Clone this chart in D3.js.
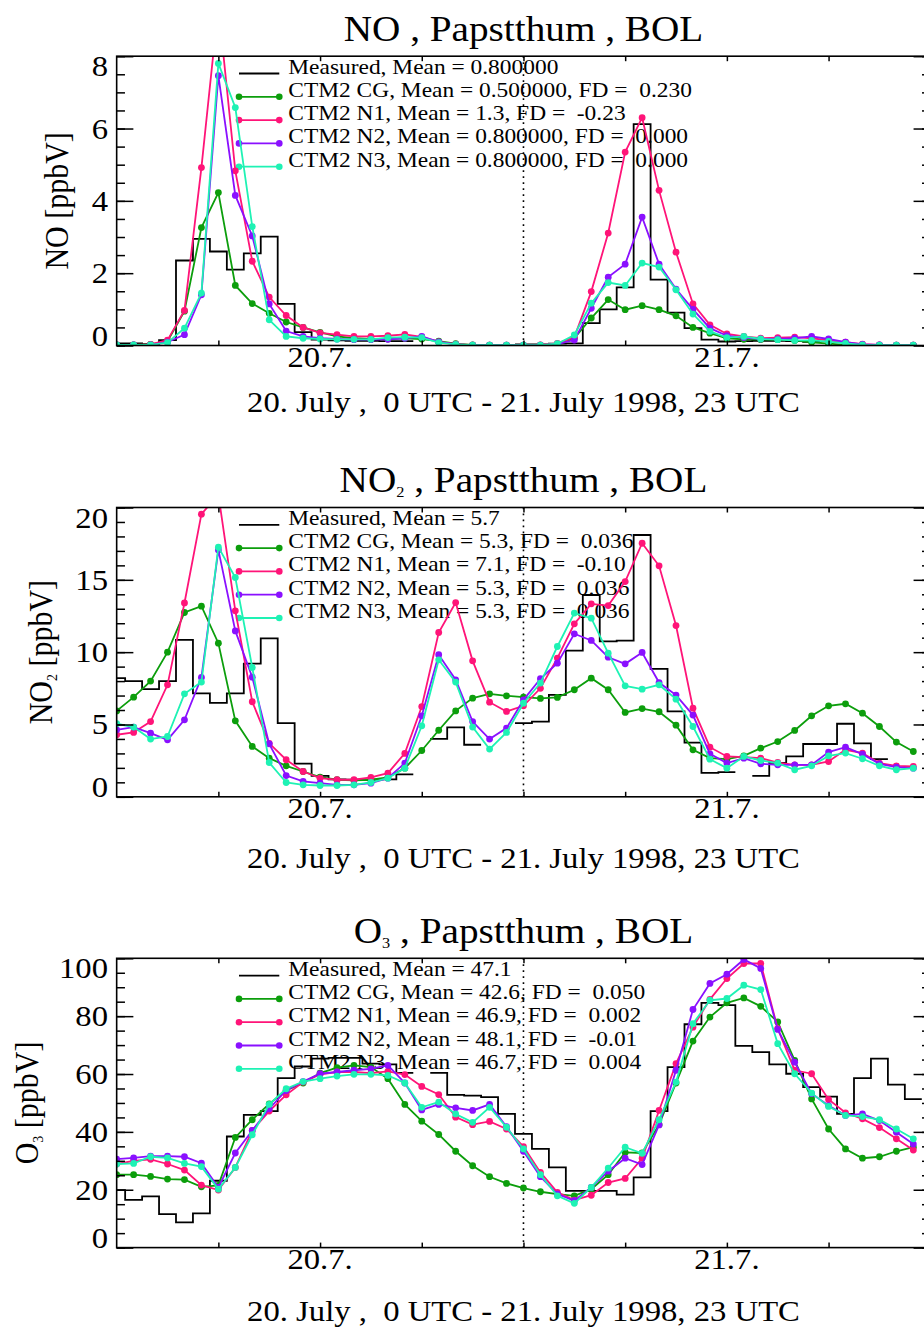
<!DOCTYPE html>
<html><head><meta charset="utf-8">
<script src="https://cdn.jsdelivr.net/npm/d3@7"></script>
<style>
body{margin:0;background:#fff}
svg text{font-family:'Liberation Serif','Tinos','Times New Roman','DejaVu Serif',serif;white-space:pre;fill:#000}
</style>
</head><body>
<svg id="c" width="924" height="1327" xmlns="http://www.w3.org/2000/svg"></svg>
<script>
// ---------------- DATA ----------------
const hours = d3.range(48);
const seriesNames = ["Measured","CTM2 CG","CTM2 N1","CTM2 N2","CTM2 N3"];
const xTickLabels = [{h:12,label:"20.7."},{h:36,label:"21.7."}];
const xTitle = "20. July ,  0 UTC - 21. July 1998, 23 UTC";

// NO [ppbV]
const no_meas = [0.06,0.06,0.04,0.15,2.35,2.95,2.6,2.1,2.55,3.01,1.15,0.37,0.16,0.14,0.13,0.13,0.12,0.12,
  null,null,null,null,null,null,
  0.03,0.03,0.05,0.06,0.62,1.0,1.61,6.12,1.82,0.91,0.48,0.16,0.11,0.12,0.13,0.13,0.12,0.1,
  null,null,null,null,null,null];
const no_cg = [0.02,0.02,0.03,0.12,0.95,3.26,4.23,1.66,1.16,0.89,0.65,0.5,0.36,0.25,0.2,0.18,0.18,0.2,0.18,0.12,0.05,0.02,0.01,0.01,0.01,0.01,0.03,0.2,0.76,1.27,0.99,1.1,0.99,0.82,0.5,0.34,0.2,0.17,0.16,0.16,0.14,0.09,0.05,0.02,0.01,0.01,0.01,0.01];
const no_n1 = [0.02,0.02,0.03,0.15,0.97,4.92,9.4,4.83,2.33,1.34,0.83,0.5,0.35,0.3,0.25,0.25,0.27,0.31,0.24,0.1,0.04,0.01,0.01,0.01,0.01,0.02,0.06,0.23,1.49,3.11,5.35,6.3,4.29,2.58,1.15,0.57,0.32,0.25,0.2,0.22,0.23,0.2,0.14,0.09,0.04,0.02,0.01,0.01];
const no_n2 = [0.02,0.02,0.02,0.09,0.3,1.4,7.46,4.15,3.03,1.15,0.4,0.25,0.2,0.18,0.16,0.16,0.17,0.2,0.25,0.1,0.03,0.01,0.01,0.01,0.01,0.01,0.04,0.15,1.03,1.89,2.25,3.55,2.25,1.56,1.0,0.48,0.27,0.22,0.18,0.18,0.2,0.25,0.18,0.09,0.03,0.02,0.01,0.01];
const no_n3 = [0.02,0.02,0.02,0.08,0.48,1.45,7.8,6.58,3.29,0.71,0.25,0.2,0.18,0.17,0.17,0.17,0.22,0.23,0.22,0.08,0.03,0.01,0.01,0.01,0.01,0.01,0.05,0.29,1.17,1.74,1.66,2.28,2.17,1.54,0.87,0.39,0.22,0.25,0.18,0.16,0.14,0.14,0.11,0.06,0.02,0.01,0.01,0.01];
const no_legend = ["Measured, Mean = 0.800000","CTM2 CG, Mean = 0.500000, FD =  0.230","CTM2 N1, Mean = 1.3, FD =  -0.23","CTM2 N2, Mean = 0.800000, FD =  0.000","CTM2 N3, Mean = 0.800000, FD =  0.000"];
const no_yticks = [0,2,4,6,8];
const no_yminor = d3.range(0,8.01,0.5);

// NO2 [ppbV]
const no2_meas = [8.2,8.0,7.45,8.0,10.85,7.15,6.5,7.15,9.2,10.95,5.1,2.3,1.45,1.2,1.18,1.18,1.2,1.55,null,4.0,
  4.8,3.6,null,null,5.1,5.2,7.05,10.1,13.95,10.75,10.8,18.1,8.85,5.9,3.75,1.65,1.7,null,1.45,2.35,
  2.8,3.65,3.65,5.05,3.7,2.6,null,null];
const no2_cg = [5.94,6.89,8.0,10.0,12.74,13.18,10.62,5.25,3.48,2.67,2.14,1.75,1.36,1.18,1.13,1.18,1.34,1.98,3.2,4.6,5.94,6.82,7.12,6.98,6.89,6.8,6.87,7.4,8.2,7.4,5.83,6.1,5.88,4.95,3.25,2.67,2.6,2.83,3.36,3.82,4.59,5.6,6.29,6.43,5.78,4.86,3.78,3.13];
const no2_n1 = [4.29,4.45,5.2,7.74,13.4,19.54,20.9,12.86,6.57,3.7,2.56,1.75,1.29,1.18,1.18,1.34,1.64,3.0,6.24,11.36,13.43,9.4,6.54,5.9,6.29,7.5,9.59,11.96,13.34,13.22,14.88,17.53,15.97,11.84,6.13,3.43,2.79,2.74,2.67,2.37,2.21,2.21,2.44,3.25,3.02,2.33,2.14,2.1];
const no2_n2 = [4.63,4.82,4.4,3.94,5.32,8.25,17.07,11.47,8.27,3.66,1.47,1.06,0.94,0.83,0.83,0.94,1.29,2.33,5.6,9.82,8.09,5.2,3.99,4.75,6.7,8.16,9.24,11.27,10.81,9.65,9.19,9.98,7.9,7.03,5.65,2.97,2.33,2.67,2.28,2.21,2.21,2.21,3.09,3.43,2.95,2.28,2.05,1.98];
const no2_n3 = [5.05,4.82,3.99,4.17,7.12,7.93,17.26,15.16,8.94,2.37,0.99,0.83,0.78,0.78,0.83,0.99,1.29,1.98,4.91,9.47,7.93,4.82,3.3,4.45,6.47,7.86,10.39,12.7,12.35,9.93,7.67,7.44,7.74,6.75,4.86,2.6,1.98,2.79,2.51,2.33,1.87,2.14,2.83,3.02,2.63,2.14,1.87,1.98];
const no2_legend = ["Measured, Mean = 5.7","CTM2 CG, Mean = 5.3, FD =  0.036","CTM2 N1, Mean = 7.1, FD =  -0.10","CTM2 N2, Mean = 5.3, FD =  0.036","CTM2 N3, Mean = 5.3, FD =  0.036"];
const no2_yticks = [0,5,10,15,20];
const no2_yminor = d3.range(0,20.01,1);

// O3 [ppbV]
const o3_meas = [19.9,16.5,17.7,11.6,8.7,11.8,23.1,38.4,45.9,47.2,58.6,62.6,65.3,65.6,65.6,63.6,63.3,60.4,null,60.4,
  52.8,52.5,52.0,46.2,39.3,34.1,27.7,19.6,19.6,19.6,18.3,24.3,47.2,62.4,77.2,84.6,83.8,69.7,67.6,63.3,
  60.1,55.5,52.2,46.2,58.6,65.3,56.3,51.3];
const o3_cg = [25.2,25.2,24.6,23.7,23.5,21.0,21.5,38.1,44.2,49.7,54.3,56.9,60.3,62.2,63.0,62.4,58.4,49.5,43.7,39.1,33.3,28.3,24.5,22.2,20.6,19.3,18.5,17.9,20.2,25.2,32.9,32.7,42.5,56.9,71.4,79.7,84.6,86.3,83.4,78.0,64.7,51.4,41.0,34.1,30.9,31.4,33.3,34.7];
const o3_n1 = [28.9,30.0,30.5,28.9,26.8,21.6,19.9,27.7,40.5,47.2,52.8,57.2,59.9,60.7,60.7,60.3,60.9,59.8,55.7,52.9,45.1,42.5,43.6,41.0,34.9,26.0,19.1,16.4,18.1,22.5,23.9,30.9,47.4,63.6,76.2,85.8,93.0,98.2,98.2,75.7,61.3,60.1,51.2,46.6,44.5,41.5,37.6,33.7];
const o3_n2 = [30.6,31.0,31.6,31.6,31.4,29.2,20.8,32.7,40.5,48.0,54.3,57.4,60.1,60.7,61.3,61.8,63.0,56.9,47.6,49.5,48.3,47.4,49.5,41.8,33.3,24.5,18.5,16.2,20.8,26.4,30.9,28.7,42.4,61.3,82.3,91.3,94.5,99.6,96.5,75.4,64.1,53.2,49.1,45.7,46.2,43.9,39.9,35.8];
const o3_n3 = [28.9,29.1,31.4,31.0,29.1,28.0,20.2,27.7,39.0,49.5,54.9,57.4,58.4,59.3,59.9,59.9,59.5,56.9,48.5,50.3,46.2,43.3,48.5,41.6,34.1,25.2,17.9,15.3,20.8,27.5,34.7,32.6,44.2,57.2,77.4,85.5,86.1,90.7,89.2,70.5,60.1,53.4,48.8,45.7,45.3,44.2,41.0,37.6];
const o3_legend = ["Measured, Mean = 47.1","CTM2 CG, Mean = 42.6, FD =  0.050","CTM2 N1, Mean = 46.9, FD =  0.002","CTM2 N2, Mean = 48.1, FD =  -0.01","CTM2 N3, Mean = 46.7, FD =  0.004"];
const o3_yticks = [0,20,40,60,80,100];
const o3_yminor = d3.range(0,100.01,5);

// ---------------- STYLE / LAYOUT ----------------
const FONT = "'Liberation Serif','Tinos','Times New Roman','DejaVu Serif',serif";
const colors = ["#000000","#0c9e0c","#ff1478","#8a10ff","#1ef2b4"];
const SX = 1.09; // horizontal glyph stretch of the original raster
const panels = [
  {sp:"NO", sub:"", top:56.2, ymax:8, meas:no_meas, models:[no_cg,no_n1,no_n2,no_n3], legend:no_legend, yt:no_yticks, ym:no_yminor, ytitleX:68, xtitleDy:66},
  {sp:"NO", sub:"2", top:507.5, ymax:20, meas:no2_meas, models:[no2_cg,no2_n1,no2_n2,no2_n3], legend:no2_legend, yt:no2_yticks, ym:no2_yminor, ytitleX:52, xtitleDy:71.5},
  {sp:"O", sub:"3", top:958.3, ymax:100, meas:o3_meas, models:[o3_cg,o3_n1,o3_n2,o3_n3], legend:o3_legend, yt:o3_yticks, ym:o3_yminor, ytitleX:38, xtitleDy:73}
];
const H = 289.3;
const x = d3.scaleLinear().domain([0,48]).range([116.67,930.27]);

const svg = d3.select("#c").attr("font-family", FONT);
svg.append("rect").attr("width",924).attr("height",1327).attr("fill","#fff");

function stretchedText(g, px, py, size, anchor, rot){
  const t = g.append("text")
    .attr("transform", `translate(${px},${py}) scale(${SX},1)` + (rot? ` rotate(${rot})`:""))
    .attr("font-family", FONT)
    .attr("font-size", size).attr("text-anchor", anchor);
  return t;
}

panels.forEach((p,pi)=>{
  const top = p.top, bottom = top + H;
  const y = d3.scaleLinear().domain([0,p.ymax]).range([bottom, top]);
  const g = svg.append("g");
  const clipId = "clip"+pi;
  svg.append("clipPath").attr("id",clipId).append("rect")
    .attr("x",x(0)).attr("y",top).attr("width",x(48)-x(0)).attr("height",H);

  // title
  const tt = stretchedText(g, (x(0)+x(48))/2, top-15.5, 36, "middle");
  tt.append("tspan").text(p.sp);
  if (p.sub){
    tt.append("tspan").attr("font-size",15).attr("dy",5).text(p.sub);
    tt.append("tspan").attr("dy",-5).text(" , Papstthum , BOL");
  } else tt.append("tspan").text(" , Papstthum , BOL");

  // legend (drawn under the data)
  const lx0 = 239, lx1 = 279.3;
  p.legend.forEach((s,i)=>{
    const ly = top + 17.3 + 23.3*i;
    g.append("line").attr("x1",lx0).attr("x2",lx1).attr("y1",ly).attr("y2",ly)
      .attr("stroke",colors[i]).attr("stroke-width",1.8);
    if (i>0){
      [lx0,lx1].forEach(cx=> g.append("circle").attr("cx",cx).attr("cy",ly).attr("r",3.3).attr("fill",colors[i]));
    }
    stretchedText(g, 288.3, ly, 21.5, "start").text(s);
  });

  // dotted midnight line
  g.append("line").attr("x1",x(24)).attr("x2",x(24)).attr("y1",top).attr("y2",bottom)
    .attr("stroke","#000").attr("stroke-width",1.6).attr("stroke-dasharray","1.8,4.2");

  const dg = g.append("g").attr("clip-path",`url(#${clipId})`);
  // measured: histogram steps centred on each hour
  const stepPts = [];
  p.meas.forEach((v,i)=>{
    if (v==null){ stepPts.push(null); return; }
    stepPts.push({h:i-0.5,v}); stepPts.push({h:i+0.5,v});
  });
  const stepLine = d3.line().defined(d=>d!=null).x(d=>x(d.h)).y(d=>y(d.v));
  dg.append("path").attr("d",stepLine(stepPts)).attr("fill","none")
    .attr("stroke","#000").attr("stroke-width",1.8);

  // models
  const line = d3.line().x((d,i)=>x(hours[i])).y(d=>y(d));
  p.models.forEach((arr,k)=>{
    const c = colors[k+1];
    dg.append("path").attr("d",line(arr)).attr("fill","none").attr("stroke",c).attr("stroke-width",1.8);
    dg.selectAll(null).data(arr).enter().append("circle")
      .attr("cx",(d,i)=>x(hours[i])).attr("cy",d=>y(d)).attr("r",3.4).attr("fill",c);
  });

  // axes (ticks inward)
  const axStyle = sel=>{ sel.select(".domain").remove(); sel.selectAll("line").attr("stroke","#000").attr("stroke-width",1.5); sel.selectAll("text").remove(); };
  g.append("g").attr("transform",`translate(${x(0)},0)`).call(d3.axisLeft(y).tickValues(p.ym).tickSize(-8.3)).call(axStyle);
  g.append("g").attr("transform",`translate(${x(0)},0)`).call(d3.axisLeft(y).tickValues(p.yt).tickSize(-16.7)).call(axStyle);
  g.append("g").attr("transform",`translate(${x(48)},0)`).call(d3.axisRight(y).tickValues(p.ym).tickSize(-8.3)).call(axStyle);
  g.append("g").attr("transform",`translate(${x(48)},0)`).call(d3.axisRight(y).tickValues(p.yt).tickSize(-16.7)).call(axStyle);
  const xt = d3.range(6,48,6);
  g.append("g").attr("transform",`translate(0,${bottom})`).call(d3.axisBottom(x).tickValues(xt).tickSize(-5)).call(axStyle);
  g.append("g").attr("transform",`translate(0,${top})`).call(d3.axisTop(x).tickValues(xt).tickSize(-5)).call(axStyle);
  g.append("rect").attr("x",x(0)).attr("y",top).attr("width",x(48)-x(0)).attr("height",H)
    .attr("fill","none").attr("stroke","#000").attr("stroke-width",1.6);

  // y tick labels (kept inside the axis span)
  p.yt.forEach(v=>{
    let cy = y(v);
    cy = Math.max(top+10, Math.min(bottom-10, cy));
    stretchedText(g, 108, cy+10, 30, "end").text(String(v));
  });
  // x tick labels
  xTickLabels.forEach(d=>{
    stretchedText(g, x(d.h), bottom+21.5, 30, "middle").text(d.label);
  });
  // x title
  stretchedText(g, (x(0)+x(48))/2, bottom+p.xtitleDy, 30, "middle").text(xTitle);
  // y title
  const yt = stretchedText(g, p.ytitleX, (top+bottom)/2, 30, "middle", -90);
  yt.append("tspan").text(p.sp);
  if (p.sub){
    yt.append("tspan").attr("font-size",14).attr("dy",5).text(p.sub);
    yt.append("tspan").attr("dy",-5).text(" [ppbV]");
  } else yt.append("tspan").text(" [ppbV]");
});
</script>
</body></html>
